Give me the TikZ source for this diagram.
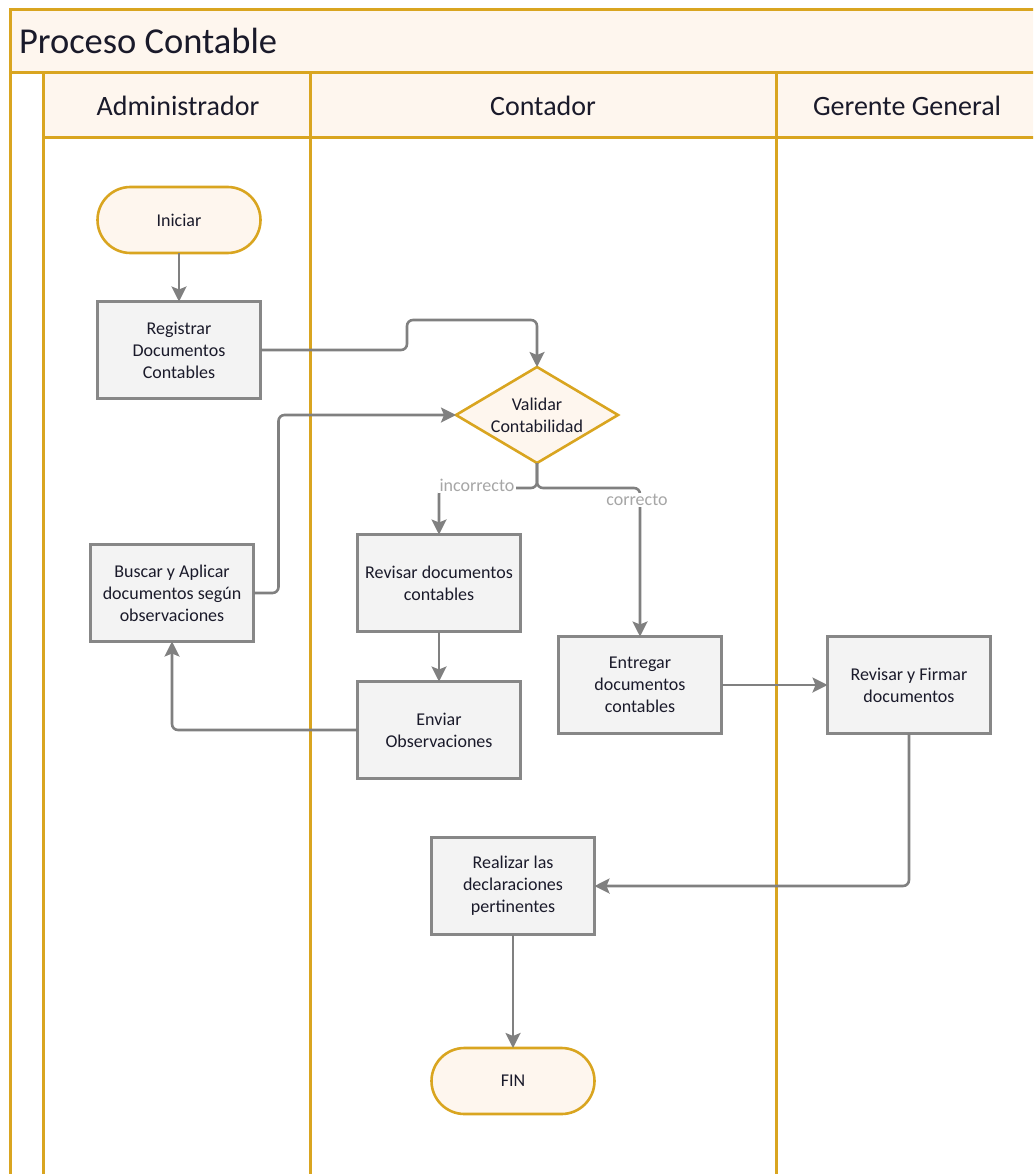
\documentclass[tikz,border=0pt]{standalone}
\usepackage{fontspec}
\setmainfont{Carlito}
\usetikzlibrary{arrows.meta,shapes.geometric}
\definecolor{lanegold}{HTML}{D9A520}
\definecolor{cream}{HTML}{FEF6EE}
\definecolor{boxfill}{HTML}{F3F3F3}
\definecolor{boxline}{HTML}{878787}
\definecolor{flowgray}{HTML}{808080}
\definecolor{labelgray}{HTML}{A6A6A6}
\definecolor{inktext}{HTML}{1A1A2A}

\begin{document}
\begin{tikzpicture}[x=1pt,y=-1pt,
  every node/.style={inner sep=0pt, outer sep=0pt, text=inktext},
  nodefont/.style={font=\fontsize{18}{22}\selectfont},
  task/.style={nodefont, draw=boxline, fill=boxfill, line width=3pt,
    minimum width=163pt, minimum height=97pt, align=center},
  terminal/.style={nodefont, draw=lanegold, fill=cream, line width=2.6pt,
    rounded corners=33pt, minimum width=163pt, minimum height=66pt},
  decision/.style={nodefont, draw=lanegold, fill=cream, line width=2.6pt,
    diamond, aspect=1.7, minimum width=162pt, minimum height=96pt, align=center},
  flow/.style={draw=flowgray, line width=2.6pt, rounded corners=6pt,
    -{Stealth[length=15pt,width=15pt,inset=3pt]}},
  branchlabel/.style={font=\fontsize{18}{20}\selectfont, text=labelgray,
    fill=white, inner sep=1.5pt},
  lane/.style={draw=lanegold, line width=3pt},
  lanehead/.style={font=\fontsize{28}{32}\selectfont}
]
\useasboundingbox (0,0) rectangle (1033,1174);
\clip (0,0) rectangle (1033,1174);

% pool and lane frames
\fill[cream] (10,10) rectangle (1045,73);
\fill[cream] (43,73) rectangle (1045,138);
\draw[lane] (1045,10) -- (10,10) -- (10,1190);
\draw[lane] (10,73) -- (1045,73);
\draw[lane] (43,138) -- (1045,138);
\draw[lane] (43,73) -- (43,1190);
\draw[lane] (310,73) -- (310,1190);
\draw[lane] (776,73) -- (776,1190);

\node[anchor=west, font=\fontsize{36.5}{40}\selectfont] (title) at (19,41) {Proceso Contable};
\node[lanehead] (hadm) at (178,106) {Administrador};
\node[lanehead] (hcon) at (543,106) {Contador};
\node[lanehead] (hger) at (907,106) {Gerente General};

% flow nodes
\node[terminal] (ini) at (179,220) {Iniciar};
\node[task] (reg) at (179,350) {Registrar\\Documentos\\Contables};
\node[decision] (val) at (537,415) {Validar\\Contabilidad};
\node[task] (bus) at (172,593) {Buscar y Aplicar\\documentos según\\observaciones};
\node[task] (rev) at (439,583) {Revisar documentos\\contables};
\node[task] (env) at (439,730) {Enviar\\Observaciones};
\node[task] (ent) at (640,685) {Entregar\\documentos\\contables};
\node[task] (firm) at (909,685) {Revisar y Firmar\\documentos};
\node[task] (real) at (513,886) {Realizar las\\declaraciones\\pertinentes};
\node[terminal] (fin) at (513,1081) {FIN};

% connectors
\draw[flow] (ini) -- (reg);
\draw[flow] (reg.east) -| (407,320) -| (val.north);
\draw[flow] (bus.east) -- ++(25,0) |- (val.west);
\draw[flow] (val.south) -- ++(0,25) -| (rev.north);
\draw[flow] (val.south) -- ++(0,25) -| (ent.north);
\draw[flow] (rev) -- (env);
\draw[flow] (env.west) -| (bus.south);
\draw[flow] (ent) -- (firm);
\draw[flow] (firm.south) |- (real.east);
\draw[flow] (real) -- (fin);

% branch labels
\node[branchlabel] (lbinc) at (477,485) {incorrecto};
\node[branchlabel] (lbcor) at (637,500) {correcto};
\end{tikzpicture}
\end{document}
